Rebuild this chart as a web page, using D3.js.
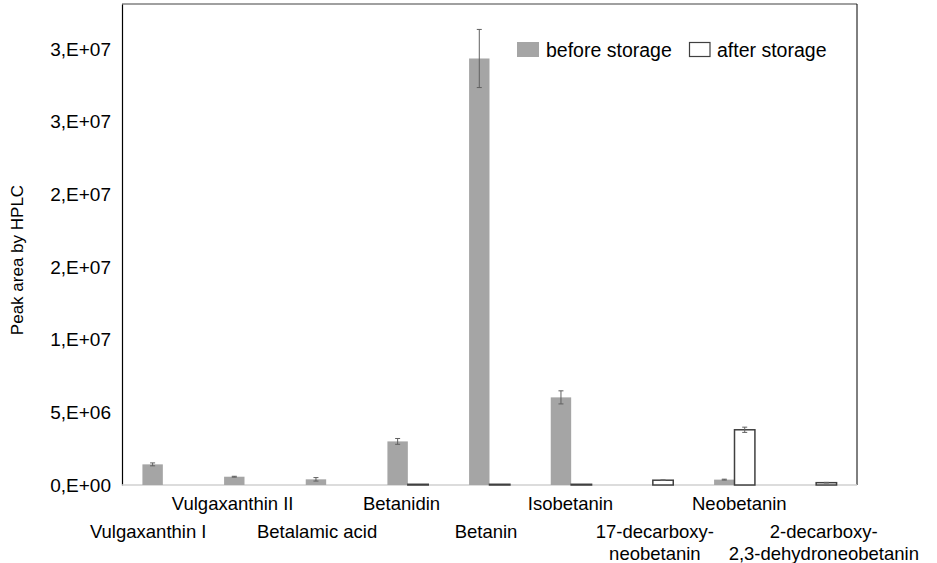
<!DOCTYPE html>
<html>
<head>
<meta charset="utf-8">
<script src="https://cdn.jsdelivr.net/npm/d3@7"></script>
<style>
  body { margin: 0; background: #fff; }
  text { font-family: "Liberation Sans", Arial, sans-serif; fill: #000; }
</style>
</head>
<body>
<div id="chart"></div>
<script>
// Chart data
const categories = [
    ["Vulgaxanthin I"],
    ["Vulgaxanthin II"],
    ["Betalamic acid"],
    ["Betanidin"],
    ["Betanin"],
    ["Isobetanin"],
    ["17-decarboxy-", "neobetanin"],
    ["Neobetanin"],
    ["2-decarboxy-", "2,3-dehydroneobetanin"]
];
const seriesNames = ["before storage", "after storage"];
const beforeValues = [1.42e6, 5.7e5, 3.9e5, 3.0e6, 2.935e7, 6.03e6, 0, 3.7e5, 0];
const beforeErrors = [1.0e5, 3e4, 1.2e5, 2.0e5, 2.0e6, 4.5e5, 0, 3e4, 0];
const afterValues = [0, 0, 0, 5e4, 5e4, 5e4, 3.3e5, 3.8e6, 1.6e5];
const afterErrors = [0, 0, 0, 0, 0, 0, 2e4, 1.8e5, 2e4];
const yTicks = [0, 5e6, 1e7, 1.5e7, 2e7, 2.5e7, 3e7];

const width = 937, height = 563;
const margin = { top: 4, right: 80, bottom: 78, left: 122 };

const svg = d3.select("#chart")
    .append("svg")
    .attr("width", width)
    .attr("height", height);

const x = d3.scaleBand()
    .domain(d3.range(categories.length))
    .range([margin.left, width - margin.right]);

// category labels are spread a little wider than the bars
const xLabel = d3.scaleBand()
    .domain(d3.range(categories.length))
    .range([106, 866]);

const y = d3.scaleLinear()
    .domain([0, 3.31e7])
    .range([height - margin.bottom, margin.top]);

const barW = x.bandwidth() / 4;

// format like "3,E+07"
function sci(v) {
    const s = v.toExponential(0).split("e");
    const exp = +s[1];
    return s[0] + ",E" + (exp < 0 ? "-" : "+") + String(Math.abs(exp)).padStart(2, "0");
}

// Plot frame
const x0 = margin.left, x1 = width - margin.right;
const yb = y(0), yt = margin.top;
svg.append("line").attr("x1", x0).attr("x2", x1).attr("y1", yt).attr("y2", yt)
    .attr("stroke", "#808080").attr("stroke-width", 1.5);
svg.append("line").attr("x1", x1).attr("x2", x1).attr("y1", yt).attr("y2", yb)
    .attr("stroke", "#000").attr("stroke-width", 1);

// Y axis
const yAxis = svg.append("g")
    .attr("transform", `translate(${x0},0)`)
    .call(d3.axisLeft(y).tickValues(yTicks).tickFormat(sci).tickSize(0).tickPadding(11));
yAxis.select(".domain").attr("stroke", "#000").attr("stroke-width", 1.2);
yAxis.selectAll("text").style("font-size", "19px").attr("dy", "0.32em")
    .attr("font-family", "Liberation Sans, Arial, sans-serif");

// X baseline
svg.append("line").attr("x1", x0).attr("x2", x1).attr("y1", yb).attr("y2", yb)
    .attr("stroke", "#d0d0d0").attr("stroke-width", 1.5);

// Bars: before storage
svg.selectAll(".bar-before")
    .data(beforeValues)
    .enter().append("rect")
    .attr("class", "bar-before")
    .attr("x", (d, i) => x(i) + x.bandwidth() / 2 - barW)
    .attr("y", d => y(d))
    .attr("width", barW)
    .attr("height", d => yb - y(d))
    .attr("fill", "#a5a5a5");

// Bars: after storage
svg.selectAll(".bar-after")
    .data(afterValues)
    .enter().append("rect")
    .attr("class", "bar-after")
    .attr("x", (d, i) => x(i) + x.bandwidth() / 2)
    .attr("y", d => y(d))
    .attr("width", barW)
    .attr("height", d => yb - y(d))
    .attr("fill", d => d > 0 ? "#fff" : "none")
    .attr("stroke", d => d > 0 ? "#404040" : "none")
    .attr("stroke-width", 1.5);

// Error bars
function errorBars(values, errors, offset) {
    const g = svg.append("g").attr("stroke", "#606060").attr("stroke-width", 1);
    values.forEach((v, i) => {
        if (!errors[i]) return;
        const cx = x(i) + x.bandwidth() / 2 + offset;
        g.append("line").attr("x1", cx).attr("x2", cx)
            .attr("y1", y(v - errors[i])).attr("y2", y(v + errors[i]));
        [v - errors[i], v + errors[i]].forEach(e => {
            g.append("line").attr("x1", cx - 2.5).attr("x2", cx + 2.5)
                .attr("y1", y(e)).attr("y2", y(e));
        });
    });
}
errorBars(beforeValues, beforeErrors, -barW / 2);
errorBars(afterValues, afterErrors, barW / 2);

// X labels (staggered)
const xl = svg.append("g");
categories.forEach((lines, i) => {
    const base = i % 2 === 1 ? 509.5 : 538;
    const cx = xLabel(i) + xLabel.bandwidth() / 2;
    const t = xl.append("text")
        .attr("x", cx)
        .attr("y", base)
        .attr("text-anchor", "middle")
        .style("font-size", "18.5px");
    lines.forEach((l, k) => {
        t.append("tspan")
            .attr("x", cx)
            .attr("dy", k === 0 ? 0 : 21.5)
            .text(l);
    });
});

// Y axis title
svg.append("text")
    .attr("transform", "translate(23,260) rotate(-90)")
    .attr("text-anchor", "middle")
    .style("font-size", "17px")
    .text("Peak area by HPLC");

// Legend
const legend = svg.append("g").attr("transform", "translate(517,42)");
legend.append("rect").attr("x", 0).attr("y", 0).attr("width", 22).attr("height", 15)
    .attr("fill", "#a5a5a5");
legend.append("text").attr("x", 29).attr("y", 15).style("font-size", "19.5px").text(seriesNames[0]);
legend.append("rect").attr("x", 172.5).attr("y", 0.5).attr("width", 20.5).attr("height", 14)
    .attr("fill", "#fff").attr("stroke", "#404040").attr("stroke-width", 1.2);
legend.append("text").attr("x", 200).attr("y", 15).style("font-size", "19.5px").text(seriesNames[1]);
</script>
</body>
</html>
